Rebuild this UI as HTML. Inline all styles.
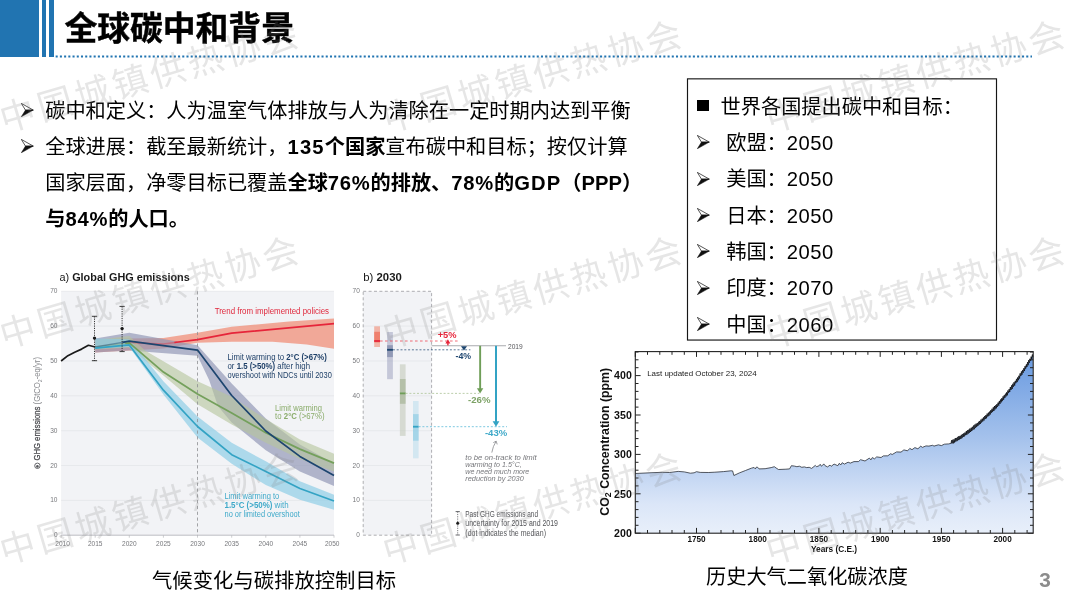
<!DOCTYPE html>
<html lang="zh-CN"><head><meta charset="utf-8"><title>全球碳中和背景</title>
<style>
html,body{margin:0;padding:0;background:#fff;}
body{width:1080px;height:608px;position:relative;overflow:hidden;font-family:"Liberation Sans","Noto Sans CJK SC",sans-serif;color:#000;}
.abs{position:absolute;}
.blue{background:#2174b1;}
.title{left:64.4px;top:4.9px;font-size:32.8px;-webkit-text-stroke:0.45px #000;font-weight:700;line-height:48px;white-space:nowrap;letter-spacing:0;}
.main{left:45.2px;top:93px;font-size:20.2px;line-height:36.1px;white-space:nowrap;}
.main b{font-weight:700;}
.arw{position:absolute;display:block;}
.box{left:687px;top:79px;width:308px;height:259.6px;border:1px solid #1a1a1a;background:transparent;}
.bl{position:absolute;left:0;font-size:20.2px;line-height:36.3px;white-space:nowrap;}
.cap{font-size:20.2px;line-height:30px;white-space:nowrap;}
.wm{position:absolute;font-size:35.6px;letter-spacing:3.5px;color:rgba(130,130,130,0.195);white-space:nowrap;transform-origin:0 50%;transform:rotate(-16.4deg);line-height:40px;height:40px;font-weight:400;font-family:"Noto Sans CJK SC",sans-serif;}
.dg{letter-spacing:0.55px;}
.pn{left:1039.3px;top:566.6px;font-size:20.8px;font-weight:700;color:#8c8c8c;line-height:26px;}
</style></head><body>
<div class="abs blue" style="left:0;top:0;width:38.6px;height:57px"></div>
<div class="abs blue" style="left:41.8px;top:0;width:4.1px;height:57px"></div>
<div class="abs blue" style="left:49.2px;top:0;width:4.5px;height:57px"></div>
<svg class="abs" style="left:0;top:50px" width="1080" height="12" viewBox="0 0 1080 12"><line x1="55.65" y1="6.4" x2="1032" y2="6.4" stroke="#2174b1" stroke-width="2" stroke-dasharray="2.05 2.17"/></svg>
<div class="abs title">全球碳中和背景</div>
<div class="abs main">
<div>碳中和定义：人为温室气体排放与人为清除在一定时期内达到平衡</div>
<div>全球进展：截至最新统计，<b><span style="letter-spacing:1.2px">135</span>个国家</b>宣布碳中和目标；按仅计算</div>
<div>国家层面，净零目标已覆盖<b>全球<span style="letter-spacing:.75px">76%</span>的排放、<span style="letter-spacing:.8px">78%</span>的<span style="letter-spacing:1.1px">GDP</span>（PPP）</b></div>
<div><b>与<span style="letter-spacing:.8px">84%</span>的人口。</b></div>
</div>
<svg class="arw" style="left:21.1px;top:102.7px" viewBox="0 0 12.4 14" width="12.6" height="14.2"><path d="M0.3 0.4 L12.1 7 L4.4 7 Z" fill="#fff" stroke="#111" stroke-width="0.7" stroke-linejoin="miter"/><path d="M12.1 7 L0.3 13.6 L4.4 7 Z" fill="#111" stroke="#111" stroke-width="0.5"/></svg>
<svg class="arw" style="left:21.1px;top:138.8px" viewBox="0 0 12.4 14" width="12.6" height="14.2"><path d="M0.3 0.4 L12.1 7 L4.4 7 Z" fill="#fff" stroke="#111" stroke-width="0.7" stroke-linejoin="miter"/><path d="M12.1 7 L0.3 13.6 L4.4 7 Z" fill="#111" stroke="#111" stroke-width="0.5"/></svg>
<svg width="1080" height="608" viewBox="0 0 1080 608" style="position:absolute;left:0;top:0" font-family="'Liberation Sans',sans-serif">
<rect x="61.1" y="291.3" width="272.9" height="243.9" fill="#f2f3f6"/>
<line x1="61.1" x2="334.0" y1="535.2" y2="535.2" stroke="#e3e4e8" stroke-width="0.7"/>
<line x1="61.1" x2="334.0" y1="500.4" y2="500.4" stroke="#e3e4e8" stroke-width="0.7"/>
<line x1="61.1" x2="334.0" y1="465.5" y2="465.5" stroke="#e3e4e8" stroke-width="0.7"/>
<line x1="61.1" x2="334.0" y1="430.7" y2="430.7" stroke="#e3e4e8" stroke-width="0.7"/>
<line x1="61.1" x2="334.0" y1="395.8" y2="395.8" stroke="#e3e4e8" stroke-width="0.7"/>
<line x1="61.1" x2="334.0" y1="361.0" y2="361.0" stroke="#e3e4e8" stroke-width="0.7"/>
<line x1="61.1" x2="334.0" y1="326.1" y2="326.1" stroke="#e3e4e8" stroke-width="0.7"/>
<line x1="61.1" x2="334.0" y1="291.3" y2="291.3" stroke="#e3e4e8" stroke-width="0.7"/>
<line x1="61.1" x2="334.0" y1="535.2" y2="535.2" stroke="#b8b9bd" stroke-width="0.8"/>
<line x1="61.1" x2="61.1" y1="535.2" y2="537.7" stroke="#b8b9bd" stroke-width="0.7"/>
<line x1="95.2" x2="95.2" y1="535.2" y2="537.7" stroke="#b8b9bd" stroke-width="0.7"/>
<line x1="129.3" x2="129.3" y1="535.2" y2="537.7" stroke="#b8b9bd" stroke-width="0.7"/>
<line x1="163.4" x2="163.4" y1="535.2" y2="537.7" stroke="#b8b9bd" stroke-width="0.7"/>
<line x1="197.5" x2="197.5" y1="535.2" y2="537.7" stroke="#b8b9bd" stroke-width="0.7"/>
<line x1="231.7" x2="231.7" y1="535.2" y2="537.7" stroke="#b8b9bd" stroke-width="0.7"/>
<line x1="265.8" x2="265.8" y1="535.2" y2="537.7" stroke="#b8b9bd" stroke-width="0.7"/>
<line x1="299.9" x2="299.9" y1="535.2" y2="537.7" stroke="#b8b9bd" stroke-width="0.7"/>
<line x1="334.0" x2="334.0" y1="535.2" y2="537.7" stroke="#b8b9bd" stroke-width="0.7"/>
<polygon points="95.2,339.3 129.3,338.6 163.4,337.9 197.5,332.7 231.7,326.8 289.0,321.6 334.0,318.4 334.0,348.8 306.7,344.6 272.6,341.8 231.7,341.8 197.5,342.8 163.4,348.4 129.3,350.5 95.2,352.6" fill="#f08a73" fill-opacity="0.72"/>
<polygon points="95.2,338.6 129.3,332.7 197.5,345.3 231.7,383.6 265.8,418.5 299.9,444.6 334.0,463.4 334.0,486.1 299.9,471.4 265.8,450.2 231.7,422.6 218.0,406.3 209.1,380.1 197.5,355.7 129.3,350.5 95.2,352.6" fill="#8d93b3" fill-opacity="0.66"/>
<polygon points="95.2,340.0 129.3,335.9 145.0,350.5 163.4,361.3 197.5,381.2 231.7,396.8 265.8,419.1 299.9,439.4 334.0,453.7 334.0,471.4 299.9,458.9 265.8,442.8 231.7,424.4 197.5,404.2 163.4,375.6 129.3,347.4 95.2,349.4" fill="#b7c59c" fill-opacity="0.62"/>
<polygon points="95.2,338.6 129.3,339.3 163.4,381.2 197.5,416.4 231.7,442.8 265.8,461.3 299.9,481.2 334.0,494.8 334.0,509.8 299.9,499.7 265.8,485.0 231.7,463.8 197.5,437.6 163.4,394.4 129.3,347.0 95.2,348.8" fill="#8ccde6" fill-opacity="0.68"/>
<line x1="197.5" x2="197.5" y1="291.3" y2="535.2" stroke="#8d8e92" stroke-width="0.8" stroke-dasharray="3.2 2.6"/>
<polyline points="129.3,342.5 163.4,343.9 177.1,342.2" fill="none" stroke="#e6253a" stroke-width="1.5" stroke-opacity="0.38"/>
<polyline points="174.4,342.5 197.5,339.7 231.7,333.1 334.0,323.7" fill="none" stroke="#e6253a" stroke-width="1.7" stroke-linejoin="round"/>
<polyline points="95.2,347.0 126.6,343.2" fill="none" stroke="#74a05c" stroke-width="1.3" stroke-opacity="0.35"/>
<polyline points="125.2,343.3 129.3,342.8 163.4,372.1 197.5,394.1 231.7,412.9 265.8,432.7 299.9,449.1 334.0,463.1" fill="none" stroke="#74a05c" stroke-width="1.75" stroke-linejoin="round"/>
<polyline points="95.2,347.0 125.2,341.8" fill="none" stroke="#1d456f" stroke-width="1.3" stroke-opacity="0.45"/>
<polyline points="122.5,342.3 129.3,341.1 197.5,350.1 231.7,395.5 265.8,431.0 299.9,456.4 334.0,475.6" fill="none" stroke="#1d456f" stroke-width="1.7" stroke-linejoin="round"/>
<polyline points="95.2,348.1 129.3,344.9 163.4,390.2 197.5,426.5 231.7,454.7 265.8,471.4 299.9,488.5 334.0,501.0" fill="none" stroke="#33a3c4" stroke-width="1.7" stroke-linejoin="round"/>
<polyline points="61.1,361.0 67.9,355.7 74.7,352.2 81.6,349.1 88.4,345.3 95.2,347.0" fill="none" stroke="#1a1a1a" stroke-width="1.7" stroke-linejoin="round"/>
<line x1="94.5" x2="94.5" y1="316.3" y2="360.7" stroke="#222" stroke-width="0.9" stroke-dasharray="1.2 1.1"/>
<line x1="91.9" x2="97.1" y1="316.3" y2="316.3" stroke="#222" stroke-width="0.9"/>
<line x1="91.9" x2="97.1" y1="360.7" y2="360.7" stroke="#222" stroke-width="0.9"/>
<circle cx="94.5" cy="338.1" r="1.7" fill="#1a1a1a"/>
<line x1="122.1" x2="122.1" y1="306.4" y2="351.6" stroke="#222" stroke-width="0.9" stroke-dasharray="1.2 1.1"/>
<line x1="119.5" x2="124.7" y1="306.4" y2="306.4" stroke="#222" stroke-width="0.9"/>
<line x1="119.5" x2="124.7" y1="351.6" y2="351.6" stroke="#222" stroke-width="0.9"/>
<circle cx="122.1" cy="328.6" r="1.7" fill="#1a1a1a"/>
<text x="57.5" y="537.2" font-size="7.6" fill="#77787c" text-anchor="end" textLength="3.6" lengthAdjust="spacingAndGlyphs">0</text>
<text x="57.5" y="502.4" font-size="7.6" fill="#77787c" text-anchor="end" textLength="7.3" lengthAdjust="spacingAndGlyphs">10</text>
<text x="57.5" y="467.5" font-size="7.6" fill="#77787c" text-anchor="end" textLength="7.3" lengthAdjust="spacingAndGlyphs">20</text>
<text x="57.5" y="432.7" font-size="7.6" fill="#77787c" text-anchor="end" textLength="7.3" lengthAdjust="spacingAndGlyphs">30</text>
<text x="57.5" y="397.8" font-size="7.6" fill="#77787c" text-anchor="end" textLength="7.3" lengthAdjust="spacingAndGlyphs">40</text>
<text x="57.5" y="363.0" font-size="7.6" fill="#77787c" text-anchor="end" textLength="7.3" lengthAdjust="spacingAndGlyphs">50</text>
<text x="57.5" y="328.1" font-size="7.6" fill="#77787c" text-anchor="end" textLength="7.3" lengthAdjust="spacingAndGlyphs">60</text>
<text x="57.5" y="293.3" font-size="7.6" fill="#77787c" text-anchor="end" textLength="7.3" lengthAdjust="spacingAndGlyphs">70</text>
<text x="62.6" y="545.6" font-size="7.8" fill="#77787c" text-anchor="middle" textLength="14.6" lengthAdjust="spacingAndGlyphs">2010</text>
<text x="95.2" y="545.6" font-size="7.8" fill="#77787c" text-anchor="middle" textLength="14.6" lengthAdjust="spacingAndGlyphs">2015</text>
<text x="129.3" y="545.6" font-size="7.8" fill="#77787c" text-anchor="middle" textLength="14.6" lengthAdjust="spacingAndGlyphs">2020</text>
<text x="163.4" y="545.6" font-size="7.8" fill="#77787c" text-anchor="middle" textLength="14.6" lengthAdjust="spacingAndGlyphs">2025</text>
<text x="197.5" y="545.6" font-size="7.8" fill="#77787c" text-anchor="middle" textLength="14.6" lengthAdjust="spacingAndGlyphs">2030</text>
<text x="231.7" y="545.6" font-size="7.8" fill="#77787c" text-anchor="middle" textLength="14.6" lengthAdjust="spacingAndGlyphs">2035</text>
<text x="265.8" y="545.6" font-size="7.8" fill="#77787c" text-anchor="middle" textLength="14.6" lengthAdjust="spacingAndGlyphs">2040</text>
<text x="299.9" y="545.6" font-size="7.8" fill="#77787c" text-anchor="middle" textLength="14.6" lengthAdjust="spacingAndGlyphs">2045</text>
<text x="332.2" y="545.6" font-size="7.8" fill="#77787c" text-anchor="middle" textLength="14.6" lengthAdjust="spacingAndGlyphs">2050</text>
<g transform="translate(40.4,460.6) rotate(-90)"><text x="0" y="0" font-size="8.4" fill="#4a4b4f" textLength="103.6" lengthAdjust="spacingAndGlyphs"><tspan stroke="#4a4b4f" stroke-width="0.25">GHG emissions</tspan> <tspan fill="#8a8b8f">(GtCO<tspan font-size="5.5" dy="1.5">2</tspan><tspan dy="-1.5">-eq/yr)</tspan></tspan></text></g>
<circle cx="37.4" cy="465.8" r="2.7" fill="none" stroke="#55565a" stroke-width="0.9"/><circle cx="37.4" cy="466.4" r="1.3" fill="#55565a"/>
<text x="59.5" y="281.2" font-size="11.3" fill="#1a1a1a" textLength="130.3" lengthAdjust="spacingAndGlyphs">a) <tspan font-weight="bold">Global GHG emissions</tspan></text>
<text x="363.3" y="281.2" font-size="11.3" fill="#1a1a1a" textLength="38.5" lengthAdjust="spacingAndGlyphs">b) <tspan font-weight="bold">2030</tspan></text>
<text x="214.7" y="314.2" font-size="9.2" fill="#e0283c" textLength="114.3" lengthAdjust="spacingAndGlyphs">Trend from implemented policies</text>
<text x="227.5" y="360.0" font-size="8.8" fill="#1f4068" textLength="99.3" lengthAdjust="spacingAndGlyphs">Limit warming to <tspan font-weight="bold">2°C (&gt;67%)</tspan></text>
<text x="227.5" y="369.2" font-size="8.8" fill="#1f4068" textLength="82.5" lengthAdjust="spacingAndGlyphs">or <tspan font-weight="bold">1.5 (&gt;50%)</tspan> after high</text>
<text x="227.5" y="378.3" font-size="8.8" fill="#1f4068" textLength="104.3" lengthAdjust="spacingAndGlyphs">overshoot with NDCs until 2030</text>
<text x="275.1" y="410.7" font-size="8.8" fill="#8aac6a" textLength="46.9" lengthAdjust="spacingAndGlyphs">Limit warming</text>
<text x="275.1" y="419.0" font-size="8.8" fill="#8aac6a" textLength="49.4" lengthAdjust="spacingAndGlyphs">to <tspan font-weight="bold">2°C</tspan> (&gt;67%)</text>
<text x="224.5" y="498.6" font-size="8.8" fill="#3ea9c9" textLength="54.8" lengthAdjust="spacingAndGlyphs">Limit warming to</text>
<text x="224.5" y="507.8" font-size="8.8" fill="#3ea9c9" textLength="64.2" lengthAdjust="spacingAndGlyphs"><tspan font-weight="bold">1.5°C (&gt;50%)</tspan> with</text>
<text x="224.5" y="516.9" font-size="8.8" fill="#3ea9c9" textLength="75.3" lengthAdjust="spacingAndGlyphs">no or limited overshoot</text>
<rect x="363.2" y="291.3" width="68.4" height="243.9" fill="#f2f3f6"/>
<line x1="363.2" x2="431.6" y1="500.4" y2="500.4" stroke="#e3e4e8" stroke-width="0.7"/>
<line x1="363.2" x2="431.6" y1="465.5" y2="465.5" stroke="#e3e4e8" stroke-width="0.7"/>
<line x1="363.2" x2="431.6" y1="430.7" y2="430.7" stroke="#e3e4e8" stroke-width="0.7"/>
<line x1="363.2" x2="431.6" y1="395.8" y2="395.8" stroke="#e3e4e8" stroke-width="0.7"/>
<line x1="363.2" x2="431.6" y1="361.0" y2="361.0" stroke="#e3e4e8" stroke-width="0.7"/>
<line x1="363.2" x2="431.6" y1="326.1" y2="326.1" stroke="#e3e4e8" stroke-width="0.7"/>
<rect x="363.2" y="291.3" width="68.4" height="243.9" fill="none" stroke="#9a9b9f" stroke-width="0.8" stroke-dasharray="3 2.4"/>
<text x="359.8" y="537.2" font-size="7.6" fill="#77787c" text-anchor="end" textLength="3.6" lengthAdjust="spacingAndGlyphs">0</text>
<text x="359.8" y="502.4" font-size="7.6" fill="#77787c" text-anchor="end" textLength="7.3" lengthAdjust="spacingAndGlyphs">10</text>
<text x="359.8" y="467.5" font-size="7.6" fill="#77787c" text-anchor="end" textLength="7.3" lengthAdjust="spacingAndGlyphs">20</text>
<text x="359.8" y="432.7" font-size="7.6" fill="#77787c" text-anchor="end" textLength="7.3" lengthAdjust="spacingAndGlyphs">30</text>
<text x="359.8" y="397.8" font-size="7.6" fill="#77787c" text-anchor="end" textLength="7.3" lengthAdjust="spacingAndGlyphs">40</text>
<text x="359.8" y="363.0" font-size="7.6" fill="#77787c" text-anchor="end" textLength="7.3" lengthAdjust="spacingAndGlyphs">50</text>
<text x="359.8" y="328.1" font-size="7.6" fill="#77787c" text-anchor="end" textLength="7.3" lengthAdjust="spacingAndGlyphs">60</text>
<text x="359.8" y="293.3" font-size="7.6" fill="#77787c" text-anchor="end" textLength="7.3" lengthAdjust="spacingAndGlyphs">70</text>
<rect x="374.2" y="326.3" width="5.8" height="20.7" fill="#f08a73" fill-opacity="0.60"/>
<rect x="374.2" y="331.8" width="5.8" height="10.6" fill="#ee6a55" fill-opacity="0.70"/>
<rect x="374.2" y="340.1" width="5.8" height="1.8" fill="#e6253a"/>
<rect x="387.1" y="332.0" width="5.8" height="47.2" fill="#8d93b3" fill-opacity="0.45"/>
<rect x="387.1" y="345.2" width="5.8" height="11.9" fill="#6f7ba0" fill-opacity="0.60"/>
<rect x="387.1" y="348.9" width="5.8" height="1.8" fill="#1d456f"/>
<rect x="399.9" y="364.3" width="5.7" height="71.6" fill="#c3c9bb" fill-opacity="0.60"/>
<rect x="399.9" y="379.0" width="5.7" height="24.8" fill="#a3b294" fill-opacity="0.65"/>
<rect x="399.9" y="392.5" width="5.7" height="1.8" fill="#6f9e58"/>
<rect x="413.0" y="401.0" width="5.6" height="57.3" fill="#b4dcec" fill-opacity="0.50"/>
<rect x="413.0" y="414.1" width="5.6" height="26.6" fill="#8ccbe3" fill-opacity="0.65"/>
<rect x="413.0" y="425.8" width="5.6" height="1.8" fill="#33a3c4"/>
<line x1="380" x2="457.8" y1="341.0" y2="341.0" stroke="#ee4a58" stroke-width="0.8" stroke-dasharray="2.6 2.4"/>
<line x1="392.9" x2="470.4" y1="349.8" y2="349.8" stroke="#1d456f" stroke-width="0.9" stroke-dasharray="2 1.8" stroke-opacity="0.8"/>
<line x1="405.6" x2="479.3" y1="393.4" y2="393.4" stroke="#b5c9a3" stroke-width="0.9" stroke-dasharray="2 1.8"/>
<line x1="418.6" x2="507" y1="426.7" y2="426.7" stroke="#6fc3de" stroke-width="0.9" stroke-dasharray="2 1.8"/>
<line x1="431.6" x2="506" y1="345.8" y2="345.8" stroke="#a9aaae" stroke-width="1.1"/>
<text x="508.0" y="348.6" font-size="8.0" fill="#55565a" textLength="14.7" lengthAdjust="spacingAndGlyphs">2019</text>
<polygon points="447.9,339.2 450.4,343.4 445.4,343.4" fill="#e6253a"/><rect x="447.2" y="342" width="1.4" height="3.4" fill="#e6253a"/>
<polygon points="464,350.4 461,346.3 467,346.3" fill="#1d456f"/>
<rect x="479.2" y="345.8" width="1.9" height="44" fill="#6f9e58"/><polygon points="480.1,393.4 476.9,388.2 483.3,388.2" fill="#6f9e58"/>
<rect x="495.0" y="345.8" width="2.0" height="77" fill="#33a3c4"/><polygon points="496,426.7 492.6,421.2 499.4,421.2" fill="#33a3c4"/>
<text x="437.7" y="338.0" font-size="9.2" font-weight="bold" fill="#e6253a" textLength="18.9" lengthAdjust="spacingAndGlyphs">+5%</text>
<text x="455.5" y="358.8" font-size="9.2" font-weight="bold" fill="#1d456f" textLength="15.6" lengthAdjust="spacingAndGlyphs">-4%</text>
<text x="468.0" y="402.9" font-size="9.2" font-weight="bold" fill="#7da266" textLength="22.5" lengthAdjust="spacingAndGlyphs">-26%</text>
<text x="484.9" y="435.9" font-size="9.2" font-weight="bold" fill="#3ea9c9" textLength="22.3" lengthAdjust="spacingAndGlyphs">-43%</text>
<path d="M491.8 452.6 Q493 446 496 441.5 M493.3 442.6 L496.2 441.2 L497.2 444.4" fill="none" stroke="#77787c" stroke-width="0.7"/>
<text x="465.3" y="459.8" font-size="7.0" font-style="italic" fill="#77787c" textLength="71.3" lengthAdjust="spacingAndGlyphs">to be on-track to limit</text>
<text x="465.3" y="466.8" font-size="7.0" font-style="italic" fill="#77787c" textLength="56.5" lengthAdjust="spacingAndGlyphs">warming to 1.5°C,</text>
<text x="465.3" y="473.8" font-size="7.0" font-style="italic" fill="#77787c" textLength="64.0" lengthAdjust="spacingAndGlyphs">we need much more</text>
<text x="465.3" y="480.8" font-size="7.0" font-style="italic" fill="#77787c" textLength="58.5" lengthAdjust="spacingAndGlyphs">reduction by 2030</text>
<line x1="457.7" x2="457.7" y1="511.6" y2="535.0" stroke="#55565a" stroke-width="0.8" stroke-dasharray="1.2 1.1"/>
<line x1="455.6" x2="459.8" y1="511.6" y2="511.6" stroke="#55565a" stroke-width="0.9"/><line x1="455.6" x2="459.8" y1="535.0" y2="535.0" stroke="#55565a" stroke-width="0.9"/><circle cx="457.7" cy="523.2" r="1.5" fill="#1a1a1a"/>
<text x="465.3" y="517.0" font-size="8.2" fill="#55565a" textLength="72.7" lengthAdjust="spacingAndGlyphs">Past GHG emissions and</text>
<text x="465.3" y="526.3" font-size="8.2" fill="#55565a" textLength="92.7" lengthAdjust="spacingAndGlyphs">uncertainty for 2015 and 2019</text>
<text x="465.3" y="535.6" font-size="8.2" fill="#55565a" textLength="80.7" lengthAdjust="spacingAndGlyphs">(dot indicates the median)</text>
<defs><linearGradient id="co2g" gradientUnits="userSpaceOnUse" x1="0" y1="351.6" x2="0" y2="533.2"><stop offset="0" stop-color="#6698e0"/><stop offset="0.48" stop-color="#a5c2ec"/><stop offset="0.84" stop-color="#dbe6f8"/><stop offset="1" stop-color="#e8effa"/></linearGradient></defs>
<polygon points="635.3,533.2 635.3,473.5 650.0,472.8 662.2,472.3 669.6,472.5 678.2,471.4 684.3,471.9 690.4,473.2 694.1,472.8 696.5,471.7 700.2,472.4 708.8,472.5 714.9,472.2 723.5,471.6 730.8,470.8 732.6,470.9 733.9,475.5 739.4,472.9 745.5,470.5 751.6,468.1 754.1,467.5 755.3,468.9 756.5,467.0 757.7,467.3 759.0,468.9 765.1,468.7 771.2,467.6 774.3,466.7 776.1,468.0 778.5,469.5 785.9,469.2 789.6,468.9 791.4,465.7 794.5,466.1 796.9,466.7 799.4,466.2 801.8,467.3 804.3,466.9 806.7,467.6 809.2,467.3 811.6,468.4 814.0,466.5 815.3,465.4 816.5,466.7 818.9,465.9 820.2,464.3 821.4,466.2 822.6,465.3 823.8,463.9 825.1,465.7 827.5,466.9 830.0,465.1 831.2,466.3 834.1,464.1 837.8,465.7 839.3,463.3 840.7,465.0 842.2,462.7 844.4,464.1 848.1,462.2 850.3,463.1 854.0,461.6 858.4,461.6 860.6,459.7 865.0,461.0 869.4,458.1 870.9,459.9 872.3,457.6 874.5,458.8 876.7,456.9 881.1,457.5 883.3,455.9 887.8,455.8 890.7,453.7 892.2,454.5 896.6,451.9 901.0,452.1 903.9,449.9 907.6,450.8 909.8,448.4 912.0,449.7 914.9,447.6 917.9,448.8 920.8,446.1 922.3,447.4 926.0,445.9 928.9,446.1 932.6,445.3 934.0,446.1 938.4,444.8 941.4,445.6 944.3,444.2 948.7,443.9 951.2,443.3 951.3,441.8 951.5,440.9 951.6,440.3 951.8,441.5 951.9,442.2 952.1,443.4 952.2,443.3 952.4,442.7 952.5,441.6 952.7,440.3 952.9,439.7 953.0,440.8 953.2,441.7 953.3,443.1 953.5,443.3 953.6,442.6 953.8,440.6 953.9,439.8 954.1,439.3 954.2,439.8 954.4,440.7 954.5,442.4 954.7,442.4 954.8,441.5 955.0,439.8 955.2,438.6 955.3,438.1 955.5,439.2 955.6,440.4 955.8,441.5 955.9,441.3 956.1,440.5 956.2,439.7 956.4,438.4 956.5,437.9 956.7,438.5 956.8,439.6 957.0,440.6 957.1,441.1 957.3,440.5 957.4,438.7 957.6,437.5 957.8,436.9 957.9,437.2 958.1,438.7 958.2,439.9 958.4,440.1 958.5,439.2 958.7,438.3 958.8,436.3 959.0,436.0 959.1,436.5 959.3,437.9 959.4,439.3 959.6,439.5 959.7,438.9 959.9,437.0 960.0,436.2 960.2,435.8 960.4,436.3 960.5,437.6 960.7,438.5 960.8,439.0 961.0,438.2 961.1,436.6 961.3,435.4 961.4,434.8 961.6,435.7 961.7,436.2 961.9,437.5 962.0,438.1 962.2,437.2 962.3,435.7 962.5,434.4 962.6,434.2 962.8,434.2 963.0,435.3 963.1,436.8 963.3,437.0 963.4,436.5 963.6,435.1 963.7,433.6 963.9,433.2 964.0,433.4 964.2,435.2 964.3,436.4 964.5,435.8 964.6,435.3 964.8,434.2 964.9,432.6 965.1,432.6 965.3,432.8 965.4,433.7 965.6,434.8 965.7,435.2 965.9,434.7 966.0,433.2 966.2,432.0 966.3,431.1 966.5,431.9 966.6,433.0 966.8,434.4 966.9,434.7 967.1,433.4 967.2,431.8 967.4,430.6 967.5,430.2 967.7,430.8 967.9,432.1 968.0,433.6 968.2,433.6 968.3,432.9 968.5,431.7 968.6,430.4 968.8,429.7 968.9,430.4 969.1,431.3 969.2,432.1 969.4,432.7 969.5,431.5 969.7,430.0 969.8,428.7 970.0,428.8 970.1,429.5 970.3,430.7 970.5,431.8 970.6,432.0 970.8,430.8 970.9,429.2 971.1,427.9 971.2,427.8 971.4,428.2 971.5,429.3 971.7,431.0 971.8,430.7 972.0,429.7 972.1,428.3 972.3,427.0 972.4,426.8 972.6,427.6 972.7,428.4 972.9,429.8 973.1,429.7 973.2,428.7 973.4,427.7 973.5,426.3 973.7,425.5 973.8,426.2 974.0,427.9 974.1,429.0 974.3,429.2 974.4,427.7 974.6,426.4 974.7,425.6 974.9,424.6 975.0,425.1 975.2,426.5 975.4,427.8 975.5,427.9 975.7,427.4 975.8,426.0 976.0,423.9 976.1,423.7 976.3,424.4 976.4,425.3 976.6,426.8 976.7,426.6 976.9,425.8 977.0,424.8 977.2,423.5 977.3,423.0 977.5,423.6 977.6,424.6 977.8,425.9 978.0,425.9 978.1,425.3 978.3,423.2 978.4,422.3 978.6,421.8 978.7,422.3 978.9,423.3 979.0,424.7 979.2,424.5 979.3,424.0 979.5,422.5 979.6,421.1 979.8,421.1 979.9,421.3 980.1,422.8 980.2,424.0 980.4,423.5 980.6,423.1 980.7,421.4 980.9,419.9 981.0,419.6 981.2,420.4 981.3,421.4 981.5,422.4 981.6,422.4 981.8,422.1 981.9,420.3 982.1,419.2 982.2,418.7 982.4,418.9 982.5,420.3 982.7,421.3 982.9,421.3 983.0,420.4 983.2,419.2 983.3,417.8 983.5,417.4 983.6,418.0 983.8,419.0 983.9,420.3 984.1,420.4 984.2,419.6 984.4,417.7 984.5,416.6 984.7,416.0 984.8,416.5 985.0,418.2 985.1,419.0 985.3,418.9 985.5,418.1 985.6,417.2 985.8,415.9 985.9,415.1 986.1,416.0 986.2,417.1 986.4,418.3 986.5,418.0 986.7,417.0 986.8,415.4 987.0,414.7 987.1,413.7 987.3,414.4 987.4,416.0 987.6,416.4 987.7,416.5 987.9,416.2 988.1,414.2 988.2,413.3 988.4,412.7 988.5,412.9 988.7,414.2 988.8,415.8 989.0,415.7 989.1,414.8 989.3,413.4 989.4,412.2 989.6,411.6 989.7,411.9 989.9,413.6 990.0,414.2 990.2,414.5 990.3,414.0 990.5,412.2 990.7,410.6 990.8,410.2 991.0,411.2 991.1,411.6 991.3,412.8 991.4,412.8 991.6,412.6 991.7,411.0 991.9,409.8 992.0,408.8 992.2,409.7 992.3,411.0 992.5,411.8 992.6,411.6 992.8,410.8 993.0,409.7 993.1,408.5 993.3,407.4 993.4,408.2 993.6,409.3 993.7,410.8 993.9,411.0 994.0,409.6 994.2,408.3 994.3,407.2 994.5,406.0 994.6,406.8 994.8,407.9 994.9,409.5 995.1,409.0 995.2,408.8 995.4,406.6 995.6,405.6 995.7,405.2 995.9,405.6 996.0,406.5 996.2,408.0 996.3,408.3 996.5,407.1 996.6,405.8 996.8,404.5 996.9,404.0 997.1,404.6 997.2,405.7 997.4,406.6 997.5,406.8 997.7,405.5 997.8,404.4 998.0,402.8 998.2,402.6 998.3,403.0 998.5,404.4 998.6,405.3 998.8,405.6 998.9,404.1 999.1,402.8 999.2,401.7 999.4,401.0 999.5,401.1 999.7,403.0 999.8,403.4 1000.0,403.9 1000.1,402.9 1000.3,401.1 1000.4,400.1 1000.6,399.5 1000.8,399.9 1000.9,400.9 1001.1,402.4 1001.2,402.1 1001.4,401.3 1001.5,399.8 1001.7,398.7 1001.8,398.2 1002.0,399.0 1002.1,400.1 1002.3,401.1 1002.4,400.7 1002.6,400.2 1002.7,398.8 1002.9,397.5 1003.1,396.4 1003.2,396.9 1003.4,398.2 1003.5,399.5 1003.7,399.7 1003.8,398.7 1004.0,397.0 1004.1,395.9 1004.3,395.2 1004.4,395.9 1004.6,396.5 1004.7,397.5 1004.9,397.9 1005.0,397.3 1005.2,395.1 1005.3,394.3 1005.5,393.7 1005.7,394.6 1005.8,395.4 1006.0,396.3 1006.1,396.4 1006.3,395.8 1006.4,394.0 1006.6,393.0 1006.7,392.3 1006.9,393.0 1007.0,393.9 1007.2,395.1 1007.3,395.3 1007.5,394.1 1007.6,392.7 1007.8,391.0 1007.9,390.5 1008.1,390.9 1008.3,392.1 1008.4,393.0 1008.6,393.0 1008.7,392.5 1008.9,391.0 1009.0,389.1 1009.2,389.2 1009.3,389.3 1009.5,390.5 1009.6,392.0 1009.8,391.5 1009.9,390.5 1010.1,389.2 1010.2,387.7 1010.4,387.1 1010.6,388.2 1010.7,389.0 1010.9,390.0 1011.0,389.9 1011.2,389.0 1011.3,387.4 1011.5,386.2 1011.6,385.4 1011.8,386.1 1011.9,387.3 1012.1,388.6 1012.2,388.9 1012.4,387.9 1012.5,386.1 1012.7,384.9 1012.8,383.8 1013.0,384.6 1013.2,385.7 1013.3,386.6 1013.5,386.7 1013.6,385.9 1013.8,384.7 1013.9,382.7 1014.1,382.2 1014.2,382.9 1014.4,384.1 1014.5,384.9 1014.7,385.5 1014.8,384.0 1015.0,382.9 1015.1,381.6 1015.3,380.9 1015.4,381.1 1015.6,382.6 1015.8,383.2 1015.9,383.1 1016.1,382.5 1016.2,381.0 1016.4,379.6 1016.5,378.9 1016.7,379.3 1016.8,380.6 1017.0,381.5 1017.1,382.1 1017.3,381.1 1017.4,379.4 1017.6,377.6 1017.7,377.4 1017.9,377.7 1018.0,379.3 1018.2,380.2 1018.4,380.1 1018.5,378.9 1018.7,377.3 1018.8,375.9 1019.0,375.7 1019.1,376.0 1019.3,377.2 1019.4,378.1 1019.6,378.5 1019.7,376.9 1019.9,375.9 1020.0,373.9 1020.2,373.4 1020.3,374.6 1020.5,375.4 1020.7,376.0 1020.8,376.0 1021.0,375.5 1021.1,374.0 1021.3,372.7 1021.4,371.5 1021.6,372.6 1021.7,373.4 1021.9,374.7 1022.0,374.5 1022.2,373.2 1022.3,372.3 1022.5,370.4 1022.6,370.0 1022.8,370.2 1022.9,371.5 1023.1,372.8 1023.3,372.4 1023.4,371.7 1023.6,370.5 1023.7,369.1 1023.9,368.2 1024.0,368.7 1024.2,369.9 1024.3,371.0 1024.5,370.9 1024.6,370.0 1024.8,368.0 1024.9,367.2 1025.1,366.1 1025.2,366.5 1025.4,368.2 1025.5,368.5 1025.7,368.7 1025.9,367.6 1026.0,366.5 1026.2,365.0 1026.3,364.5 1026.5,364.5 1026.6,365.9 1026.8,367.0 1026.9,367.0 1027.1,366.2 1027.2,364.8 1027.4,363.3 1027.5,362.2 1027.7,363.1 1027.8,363.7 1028.0,365.1 1028.1,365.2 1028.3,364.0 1028.5,362.7 1028.6,361.1 1028.8,360.1 1028.9,360.6 1029.1,361.8 1029.2,362.9 1029.4,362.7 1029.5,361.7 1029.7,360.4 1029.8,358.9 1030.0,358.8 1030.1,358.8 1030.3,360.1 1030.4,360.8 1030.6,360.9 1030.8,360.2 1030.9,358.8 1031.1,356.7 1031.2,356.7 1031.4,356.9 1031.5,358.1 1031.7,359.1 1031.8,358.8 1032.0,357.6 1032.1,356.6 1032.3,354.9 1032.4,354.5 1032.6,354.8 1032.7,356.0 1032.9,357.1 1033.2,533.2" fill="url(#co2g)"/>
<polyline points="635.3,473.5 650.0,472.8 662.2,472.3 669.6,472.5 678.2,471.4 684.3,471.9 690.4,473.2 694.1,472.8 696.5,471.7 700.2,472.4 708.8,472.5 714.9,472.2 723.5,471.6 730.8,470.8 732.6,470.9 733.9,475.5 739.4,472.9 745.5,470.5 751.6,468.1 754.1,467.5 755.3,468.9 756.5,467.0 757.7,467.3 759.0,468.9 765.1,468.7 771.2,467.6 774.3,466.7 776.1,468.0 778.5,469.5 785.9,469.2 789.6,468.9 791.4,465.7 794.5,466.1 796.9,466.7 799.4,466.2 801.8,467.3 804.3,466.9 806.7,467.6 809.2,467.3 811.6,468.4 814.0,466.5 815.3,465.4 816.5,466.7 818.9,465.9 820.2,464.3 821.4,466.2 822.6,465.3 823.8,463.9 825.1,465.7 827.5,466.9 830.0,465.1 831.2,466.3 834.1,464.1 837.8,465.7 839.3,463.3 840.7,465.0 842.2,462.7 844.4,464.1 848.1,462.2 850.3,463.1 854.0,461.6 858.4,461.6 860.6,459.7 865.0,461.0 869.4,458.1 870.9,459.9 872.3,457.6 874.5,458.8 876.7,456.9 881.1,457.5 883.3,455.9 887.8,455.8 890.7,453.7 892.2,454.5 896.6,451.9 901.0,452.1 903.9,449.9 907.6,450.8 909.8,448.4 912.0,449.7 914.9,447.6 917.9,448.8 920.8,446.1 922.3,447.4 926.0,445.9 928.9,446.1 932.6,445.3 934.0,446.1 938.4,444.8 941.4,445.6 944.3,444.2 948.7,443.9 951.2,443.3" fill="none" stroke="#20242c" stroke-width="0.75" stroke-linejoin="round"/>
<polyline points="951.2,443.3 951.3,441.8 951.5,440.9 951.6,440.3 951.8,441.5 951.9,442.2 952.1,443.4 952.2,443.3 952.4,442.7 952.5,441.6 952.7,440.3 952.9,439.7 953.0,440.8 953.2,441.7 953.3,443.1 953.5,443.3 953.6,442.6 953.8,440.6 953.9,439.8 954.1,439.3 954.2,439.8 954.4,440.7 954.5,442.4 954.7,442.4 954.8,441.5 955.0,439.8 955.2,438.6 955.3,438.1 955.5,439.2 955.6,440.4 955.8,441.5 955.9,441.3 956.1,440.5 956.2,439.7 956.4,438.4 956.5,437.9 956.7,438.5 956.8,439.6 957.0,440.6 957.1,441.1 957.3,440.5 957.4,438.7 957.6,437.5 957.8,436.9 957.9,437.2 958.1,438.7 958.2,439.9 958.4,440.1 958.5,439.2 958.7,438.3 958.8,436.3 959.0,436.0 959.1,436.5 959.3,437.9 959.4,439.3 959.6,439.5 959.7,438.9 959.9,437.0 960.0,436.2 960.2,435.8 960.4,436.3 960.5,437.6 960.7,438.5 960.8,439.0 961.0,438.2 961.1,436.6 961.3,435.4 961.4,434.8 961.6,435.7 961.7,436.2 961.9,437.5 962.0,438.1 962.2,437.2 962.3,435.7 962.5,434.4 962.6,434.2 962.8,434.2 963.0,435.3 963.1,436.8 963.3,437.0 963.4,436.5 963.6,435.1 963.7,433.6 963.9,433.2 964.0,433.4 964.2,435.2 964.3,436.4 964.5,435.8 964.6,435.3 964.8,434.2 964.9,432.6 965.1,432.6 965.3,432.8 965.4,433.7 965.6,434.8 965.7,435.2 965.9,434.7 966.0,433.2 966.2,432.0 966.3,431.1 966.5,431.9 966.6,433.0 966.8,434.4 966.9,434.7 967.1,433.4 967.2,431.8 967.4,430.6 967.5,430.2 967.7,430.8 967.9,432.1 968.0,433.6 968.2,433.6 968.3,432.9 968.5,431.7 968.6,430.4 968.8,429.7 968.9,430.4 969.1,431.3 969.2,432.1 969.4,432.7 969.5,431.5 969.7,430.0 969.8,428.7 970.0,428.8 970.1,429.5 970.3,430.7 970.5,431.8 970.6,432.0 970.8,430.8 970.9,429.2 971.1,427.9 971.2,427.8 971.4,428.2 971.5,429.3 971.7,431.0 971.8,430.7 972.0,429.7 972.1,428.3 972.3,427.0 972.4,426.8 972.6,427.6 972.7,428.4 972.9,429.8 973.1,429.7 973.2,428.7 973.4,427.7 973.5,426.3 973.7,425.5 973.8,426.2 974.0,427.9 974.1,429.0 974.3,429.2 974.4,427.7 974.6,426.4 974.7,425.6 974.9,424.6 975.0,425.1 975.2,426.5 975.4,427.8 975.5,427.9 975.7,427.4 975.8,426.0 976.0,423.9 976.1,423.7 976.3,424.4 976.4,425.3 976.6,426.8 976.7,426.6 976.9,425.8 977.0,424.8 977.2,423.5 977.3,423.0 977.5,423.6 977.6,424.6 977.8,425.9 978.0,425.9 978.1,425.3 978.3,423.2 978.4,422.3 978.6,421.8 978.7,422.3 978.9,423.3 979.0,424.7 979.2,424.5 979.3,424.0 979.5,422.5 979.6,421.1 979.8,421.1 979.9,421.3 980.1,422.8 980.2,424.0 980.4,423.5 980.6,423.1 980.7,421.4 980.9,419.9 981.0,419.6 981.2,420.4 981.3,421.4 981.5,422.4 981.6,422.4 981.8,422.1 981.9,420.3 982.1,419.2 982.2,418.7 982.4,418.9 982.5,420.3 982.7,421.3 982.9,421.3 983.0,420.4 983.2,419.2 983.3,417.8 983.5,417.4 983.6,418.0 983.8,419.0 983.9,420.3 984.1,420.4 984.2,419.6 984.4,417.7 984.5,416.6 984.7,416.0 984.8,416.5 985.0,418.2 985.1,419.0 985.3,418.9 985.5,418.1 985.6,417.2 985.8,415.9 985.9,415.1 986.1,416.0 986.2,417.1 986.4,418.3 986.5,418.0 986.7,417.0 986.8,415.4 987.0,414.7 987.1,413.7 987.3,414.4 987.4,416.0 987.6,416.4 987.7,416.5 987.9,416.2 988.1,414.2 988.2,413.3 988.4,412.7 988.5,412.9 988.7,414.2 988.8,415.8 989.0,415.7 989.1,414.8 989.3,413.4 989.4,412.2 989.6,411.6 989.7,411.9 989.9,413.6 990.0,414.2 990.2,414.5 990.3,414.0 990.5,412.2 990.7,410.6 990.8,410.2 991.0,411.2 991.1,411.6 991.3,412.8 991.4,412.8 991.6,412.6 991.7,411.0 991.9,409.8 992.0,408.8 992.2,409.7 992.3,411.0 992.5,411.8 992.6,411.6 992.8,410.8 993.0,409.7 993.1,408.5 993.3,407.4 993.4,408.2 993.6,409.3 993.7,410.8 993.9,411.0 994.0,409.6 994.2,408.3 994.3,407.2 994.5,406.0 994.6,406.8 994.8,407.9 994.9,409.5 995.1,409.0 995.2,408.8 995.4,406.6 995.6,405.6 995.7,405.2 995.9,405.6 996.0,406.5 996.2,408.0 996.3,408.3 996.5,407.1 996.6,405.8 996.8,404.5 996.9,404.0 997.1,404.6 997.2,405.7 997.4,406.6 997.5,406.8 997.7,405.5 997.8,404.4 998.0,402.8 998.2,402.6 998.3,403.0 998.5,404.4 998.6,405.3 998.8,405.6 998.9,404.1 999.1,402.8 999.2,401.7 999.4,401.0 999.5,401.1 999.7,403.0 999.8,403.4 1000.0,403.9 1000.1,402.9 1000.3,401.1 1000.4,400.1 1000.6,399.5 1000.8,399.9 1000.9,400.9 1001.1,402.4 1001.2,402.1 1001.4,401.3 1001.5,399.8 1001.7,398.7 1001.8,398.2 1002.0,399.0 1002.1,400.1 1002.3,401.1 1002.4,400.7 1002.6,400.2 1002.7,398.8 1002.9,397.5 1003.1,396.4 1003.2,396.9 1003.4,398.2 1003.5,399.5 1003.7,399.7 1003.8,398.7 1004.0,397.0 1004.1,395.9 1004.3,395.2 1004.4,395.9 1004.6,396.5 1004.7,397.5 1004.9,397.9 1005.0,397.3 1005.2,395.1 1005.3,394.3 1005.5,393.7 1005.7,394.6 1005.8,395.4 1006.0,396.3 1006.1,396.4 1006.3,395.8 1006.4,394.0 1006.6,393.0 1006.7,392.3 1006.9,393.0 1007.0,393.9 1007.2,395.1 1007.3,395.3 1007.5,394.1 1007.6,392.7 1007.8,391.0 1007.9,390.5 1008.1,390.9 1008.3,392.1 1008.4,393.0 1008.6,393.0 1008.7,392.5 1008.9,391.0 1009.0,389.1 1009.2,389.2 1009.3,389.3 1009.5,390.5 1009.6,392.0 1009.8,391.5 1009.9,390.5 1010.1,389.2 1010.2,387.7 1010.4,387.1 1010.6,388.2 1010.7,389.0 1010.9,390.0 1011.0,389.9 1011.2,389.0 1011.3,387.4 1011.5,386.2 1011.6,385.4 1011.8,386.1 1011.9,387.3 1012.1,388.6 1012.2,388.9 1012.4,387.9 1012.5,386.1 1012.7,384.9 1012.8,383.8 1013.0,384.6 1013.2,385.7 1013.3,386.6 1013.5,386.7 1013.6,385.9 1013.8,384.7 1013.9,382.7 1014.1,382.2 1014.2,382.9 1014.4,384.1 1014.5,384.9 1014.7,385.5 1014.8,384.0 1015.0,382.9 1015.1,381.6 1015.3,380.9 1015.4,381.1 1015.6,382.6 1015.8,383.2 1015.9,383.1 1016.1,382.5 1016.2,381.0 1016.4,379.6 1016.5,378.9 1016.7,379.3 1016.8,380.6 1017.0,381.5 1017.1,382.1 1017.3,381.1 1017.4,379.4 1017.6,377.6 1017.7,377.4 1017.9,377.7 1018.0,379.3 1018.2,380.2 1018.4,380.1 1018.5,378.9 1018.7,377.3 1018.8,375.9 1019.0,375.7 1019.1,376.0 1019.3,377.2 1019.4,378.1 1019.6,378.5 1019.7,376.9 1019.9,375.9 1020.0,373.9 1020.2,373.4 1020.3,374.6 1020.5,375.4 1020.7,376.0 1020.8,376.0 1021.0,375.5 1021.1,374.0 1021.3,372.7 1021.4,371.5 1021.6,372.6 1021.7,373.4 1021.9,374.7 1022.0,374.5 1022.2,373.2 1022.3,372.3 1022.5,370.4 1022.6,370.0 1022.8,370.2 1022.9,371.5 1023.1,372.8 1023.3,372.4 1023.4,371.7 1023.6,370.5 1023.7,369.1 1023.9,368.2 1024.0,368.7 1024.2,369.9 1024.3,371.0 1024.5,370.9 1024.6,370.0 1024.8,368.0 1024.9,367.2 1025.1,366.1 1025.2,366.5 1025.4,368.2 1025.5,368.5 1025.7,368.7 1025.9,367.6 1026.0,366.5 1026.2,365.0 1026.3,364.5 1026.5,364.5 1026.6,365.9 1026.8,367.0 1026.9,367.0 1027.1,366.2 1027.2,364.8 1027.4,363.3 1027.5,362.2 1027.7,363.1 1027.8,363.7 1028.0,365.1 1028.1,365.2 1028.3,364.0 1028.5,362.7 1028.6,361.1 1028.8,360.1 1028.9,360.6 1029.1,361.8 1029.2,362.9 1029.4,362.7 1029.5,361.7 1029.7,360.4 1029.8,358.9 1030.0,358.8 1030.1,358.8 1030.3,360.1 1030.4,360.8 1030.6,360.9 1030.8,360.2 1030.9,358.8 1031.1,356.7 1031.2,356.7 1031.4,356.9 1031.5,358.1 1031.7,359.1 1031.8,358.8 1032.0,357.6 1032.1,356.6 1032.3,354.9 1032.4,354.5 1032.6,354.8 1032.7,356.0 1032.9,357.1" fill="none" stroke="#0c0e13" stroke-width="0.95" stroke-linejoin="round" stroke-opacity="0.95"/>
<rect x="635.3" y="351.6" width="397.9" height="181.6" fill="none" stroke="#222" stroke-width="1.1"/>
<path d="M635.3 533.2v-5.3M635.3 351.6v5.3M647.5 533.2v-3.2M647.5 351.6v3.2M659.8 533.2v-3.2M659.8 351.6v3.2M672.0 533.2v-3.2M672.0 351.6v3.2M684.3 533.2v-3.2M684.3 351.6v3.2M696.5 533.2v-5.3M696.5 351.6v5.3M708.8 533.2v-3.2M708.8 351.6v3.2M721.0 533.2v-3.2M721.0 351.6v3.2M733.2 533.2v-3.2M733.2 351.6v3.2M745.5 533.2v-3.2M745.5 351.6v3.2M757.7 533.2v-5.3M757.7 351.6v5.3M770.0 533.2v-3.2M770.0 351.6v3.2M782.2 533.2v-3.2M782.2 351.6v3.2M794.5 533.2v-3.2M794.5 351.6v3.2M806.7 533.2v-3.2M806.7 351.6v3.2M818.9 533.2v-5.3M818.9 351.6v5.3M831.2 533.2v-3.2M831.2 351.6v3.2M843.4 533.2v-3.2M843.4 351.6v3.2M855.7 533.2v-3.2M855.7 351.6v3.2M867.9 533.2v-3.2M867.9 351.6v3.2M880.2 533.2v-5.3M880.2 351.6v5.3M892.4 533.2v-3.2M892.4 351.6v3.2M904.6 533.2v-3.2M904.6 351.6v3.2M916.9 533.2v-3.2M916.9 351.6v3.2M929.1 533.2v-3.2M929.1 351.6v3.2M941.4 533.2v-5.3M941.4 351.6v5.3M953.6 533.2v-3.2M953.6 351.6v3.2M965.9 533.2v-3.2M965.9 351.6v3.2M978.1 533.2v-3.2M978.1 351.6v3.2M990.3 533.2v-3.2M990.3 351.6v3.2M1002.6 533.2v-5.3M1002.6 351.6v5.3M1014.8 533.2v-3.2M1014.8 351.6v3.2M1027.1 533.2v-3.2M1027.1 351.6v3.2M635.3 533.2h5.3M1033.2 533.2h-5.3M635.3 525.3h3.2M1033.2 525.3h-3.2M635.3 517.4h3.2M1033.2 517.4h-3.2M635.3 509.6h3.2M1033.2 509.6h-3.2M635.3 501.7h3.2M1033.2 501.7h-3.2M635.3 493.8h5.3M1033.2 493.8h-5.3M635.3 485.9h3.2M1033.2 485.9h-3.2M635.3 478.0h3.2M1033.2 478.0h-3.2M635.3 470.2h3.2M1033.2 470.2h-3.2M635.3 462.3h3.2M1033.2 462.3h-3.2M635.3 454.4h5.3M1033.2 454.4h-5.3M635.3 446.5h3.2M1033.2 446.5h-3.2M635.3 438.6h3.2M1033.2 438.6h-3.2M635.3 430.8h3.2M1033.2 430.8h-3.2M635.3 422.9h3.2M1033.2 422.9h-3.2M635.3 415.0h5.3M1033.2 415.0h-5.3M635.3 407.1h3.2M1033.2 407.1h-3.2M635.3 399.2h3.2M1033.2 399.2h-3.2M635.3 391.4h3.2M1033.2 391.4h-3.2M635.3 383.5h3.2M1033.2 383.5h-3.2M635.3 375.6h5.3M1033.2 375.6h-5.3M635.3 367.7h3.2M1033.2 367.7h-3.2M635.3 359.8h3.2M1033.2 359.8h-3.2M635.3 352.0h3.2M1033.2 352.0h-3.2" stroke="#222" stroke-width="1.0" fill="none"/>
<text x="631.8" y="537.0" font-size="10.6" font-weight="bold" fill="#111" text-anchor="end">200</text>
<text x="631.8" y="497.6" font-size="10.6" font-weight="bold" fill="#111" text-anchor="end">250</text>
<text x="631.8" y="458.2" font-size="10.6" font-weight="bold" fill="#111" text-anchor="end">300</text>
<text x="631.8" y="418.8" font-size="10.6" font-weight="bold" fill="#111" text-anchor="end">350</text>
<text x="631.8" y="379.4" font-size="10.6" font-weight="bold" fill="#111" text-anchor="end">400</text>
<text x="696.5" y="542.2" font-size="8.2" font-weight="bold" fill="#111" text-anchor="middle">1750</text>
<text x="757.7" y="542.2" font-size="8.2" font-weight="bold" fill="#111" text-anchor="middle">1800</text>
<text x="818.9" y="542.2" font-size="8.2" font-weight="bold" fill="#111" text-anchor="middle">1850</text>
<text x="880.2" y="542.2" font-size="8.2" font-weight="bold" fill="#111" text-anchor="middle">1900</text>
<text x="941.4" y="542.2" font-size="8.2" font-weight="bold" fill="#111" text-anchor="middle">1950</text>
<text x="1002.6" y="542.2" font-size="8.2" font-weight="bold" fill="#111" text-anchor="middle">2000</text>
<text x="834" y="552.2" font-size="8.3" font-weight="bold" fill="#111" text-anchor="middle">Years (C.E.)</text>
<text x="647.2" y="376.0" font-size="7.95" fill="#222">Last updated October 23, 2024</text>
<g transform="translate(608.6,441.8) rotate(-90)"><text x="0" y="0" font-size="12.3" font-weight="bold" fill="#111" text-anchor="middle">CO<tspan font-size="8.8" dy="2">2</tspan><tspan dy="-2"> Concentration (ppm)</tspan></text></g>
</svg>
<svg class="abs" style="left:680px;top:70px" width="330" height="280" viewBox="680 70 330 280"><rect x="687.5" y="78.85" width="309" height="261.2" fill="none" stroke="#161616" stroke-width="1.15"/></svg>
<div class="abs" style="left:697px;top:99.6px;width:12px;height:11.7px;background:#000"></div>
<div class="abs" style="left:720.6px;top:88.7px;font-size:20.2px;line-height:36.3px;white-space:nowrap">世界各国提出碳中和目标：</div>
<div class="abs" style="left:726.2px;top:124.8px;font-size:20.2px;line-height:36.3px;white-space:nowrap">欧盟：<span class="dg">2050</span></div>
<svg class="arw" style="left:697.1px;top:135.2px" viewBox="0 0 12.4 14" width="12.6" height="14.2"><path d="M0.3 0.4 L12.1 7 L4.4 7 Z" fill="#fff" stroke="#111" stroke-width="0.7" stroke-linejoin="miter"/><path d="M12.1 7 L0.3 13.6 L4.4 7 Z" fill="#111" stroke="#111" stroke-width="0.5"/></svg>
<div class="abs" style="left:726.2px;top:161.2px;font-size:20.2px;line-height:36.3px;white-space:nowrap">美国：<span class="dg">2050</span></div>
<svg class="arw" style="left:697.1px;top:171.6px" viewBox="0 0 12.4 14" width="12.6" height="14.2"><path d="M0.3 0.4 L12.1 7 L4.4 7 Z" fill="#fff" stroke="#111" stroke-width="0.7" stroke-linejoin="miter"/><path d="M12.1 7 L0.3 13.6 L4.4 7 Z" fill="#111" stroke="#111" stroke-width="0.5"/></svg>
<div class="abs" style="left:726.2px;top:197.6px;font-size:20.2px;line-height:36.3px;white-space:nowrap">日本：<span class="dg">2050</span></div>
<svg class="arw" style="left:697.1px;top:208.0px" viewBox="0 0 12.4 14" width="12.6" height="14.2"><path d="M0.3 0.4 L12.1 7 L4.4 7 Z" fill="#fff" stroke="#111" stroke-width="0.7" stroke-linejoin="miter"/><path d="M12.1 7 L0.3 13.6 L4.4 7 Z" fill="#111" stroke="#111" stroke-width="0.5"/></svg>
<div class="abs" style="left:726.2px;top:233.9px;font-size:20.2px;line-height:36.3px;white-space:nowrap">韩国：<span class="dg">2050</span></div>
<svg class="arw" style="left:697.1px;top:244.3px" viewBox="0 0 12.4 14" width="12.6" height="14.2"><path d="M0.3 0.4 L12.1 7 L4.4 7 Z" fill="#fff" stroke="#111" stroke-width="0.7" stroke-linejoin="miter"/><path d="M12.1 7 L0.3 13.6 L4.4 7 Z" fill="#111" stroke="#111" stroke-width="0.5"/></svg>
<div class="abs" style="left:726.2px;top:270.2px;font-size:20.2px;line-height:36.3px;white-space:nowrap">印度：<span class="dg">2070</span></div>
<svg class="arw" style="left:697.1px;top:280.6px" viewBox="0 0 12.4 14" width="12.6" height="14.2"><path d="M0.3 0.4 L12.1 7 L4.4 7 Z" fill="#fff" stroke="#111" stroke-width="0.7" stroke-linejoin="miter"/><path d="M12.1 7 L0.3 13.6 L4.4 7 Z" fill="#111" stroke="#111" stroke-width="0.5"/></svg>
<div class="abs" style="left:726.2px;top:306.6px;font-size:20.2px;line-height:36.3px;white-space:nowrap">中国：<span class="dg">2060</span></div>
<svg class="arw" style="left:697.1px;top:317.0px" viewBox="0 0 12.4 14" width="12.6" height="14.2"><path d="M0.3 0.4 L12.1 7 L4.4 7 Z" fill="#fff" stroke="#111" stroke-width="0.7" stroke-linejoin="miter"/><path d="M12.1 7 L0.3 13.6 L4.4 7 Z" fill="#111" stroke="#111" stroke-width="0.5"/></svg>
<div class="abs cap" style="left:152px;top:566.2px;font-size:20.35px">气候变化与碳排放控制目标</div>
<div class="abs cap" style="left:706px;top:562px">历史大气二氧化碳浓度</div>
<div class="abs pn">3</div>
<div class="wm" style="left:0.3px;top:97.8px">中国城镇供热协会</div>
<div class="wm" style="left:383.4px;top:97.8px">中国城镇供热协会</div>
<div class="wm" style="left:766.4px;top:97.8px">中国城镇供热协会</div>
<div class="wm" style="left:0.3px;top:313.6px">中国城镇供热协会</div>
<div class="wm" style="left:383.4px;top:313.6px">中国城镇供热协会</div>
<div class="wm" style="left:766.4px;top:313.6px">中国城镇供热协会</div>
<div class="wm" style="left:0.3px;top:529.5px">中国城镇供热协会</div>
<div class="wm" style="left:383.4px;top:529.5px">中国城镇供热协会</div>
<div class="wm" style="left:766.4px;top:529.5px">中国城镇供热协会</div>
</body></html>
